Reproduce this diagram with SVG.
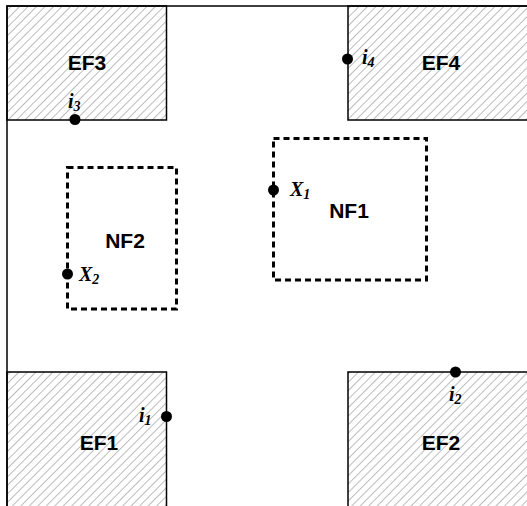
<svg xmlns="http://www.w3.org/2000/svg" width="527" height="506" viewBox="0 0 527 506">
  <defs>
    <pattern id="hatch" patternUnits="userSpaceOnUse" width="6" height="10" patternTransform="rotate(45)">
      <line x1="0" y1="0" x2="0" y2="10" stroke="#7a7a7a" stroke-width="1"/>
    </pattern>
    <style>
      .ef { fill: url(#hatch); stroke: #000; stroke-width: 1.5; }
      .nf { fill: none; stroke: #000; stroke-width: 3; stroke-dasharray: 6 4; }
      .frame { fill: none; stroke: #000; stroke-width: 1.5; }
      .big { font-family: "Liberation Sans", Arial, sans-serif; font-weight: bold; font-size: 21px; fill: #000; text-anchor: middle; }
      .var { font-family: "Liberation Serif", "Times New Roman", serif; font-style: italic; font-weight: bold; font-size: 20px; fill: #000; }
      .sub { font-size: 14px; }
      .pt { fill: #000; }
    </style>
  </defs>
  <rect width="527" height="506" fill="#fff"/>

  <!-- outer frame: top and left edges -->
  <path class="frame" d="M7,506 V6 H527"/>

  <g id="EF3">
    <rect class="ef" x="7" y="6" width="159.5" height="114"/>
    <text class="big" x="87" y="70">EF3</text>
  </g>
  <g id="EF4">
    <rect class="ef" x="348" y="6" width="190" height="114"/>
    <text class="big" x="441" y="70">EF4</text>
  </g>
  <g id="EF1">
    <rect class="ef" x="7" y="372" width="159.5" height="145"/>
    <text class="big" x="99" y="450">EF1</text>
  </g>
  <g id="EF2">
    <rect class="ef" x="348" y="372" width="190" height="145"/>
    <text class="big" x="441" y="450">EF2</text>
  </g>

  <g id="NF1">
    <rect class="nf" x="273.5" y="138.5" width="153" height="141.5"/>
    <text class="big" x="349" y="218">NF1</text>
  </g>
  <g id="NF2">
    <rect class="nf" x="67.5" y="167.5" width="109" height="141.5"/>
    <text class="big" x="125" y="248">NF2</text>
  </g>

  <!-- interface points -->
  <g id="i3">
    <circle class="pt" cx="75" cy="119.5" r="5.5"/>
    <text class="var" x="68" y="108">i<tspan class="sub" dy="3">3</tspan></text>
  </g>
  <g id="i4">
    <circle class="pt" cx="347.5" cy="59" r="5.5"/>
    <text class="var" x="362" y="64">i<tspan class="sub" dy="3">4</tspan></text>
  </g>
  <g id="i1">
    <circle class="pt" cx="166.5" cy="416.5" r="5.5"/>
    <text class="var" x="139" y="422">i<tspan class="sub" dy="3">1</tspan></text>
  </g>
  <g id="i2">
    <circle class="pt" cx="455.5" cy="372" r="5.5"/>
    <text class="var" x="449" y="401">i<tspan class="sub" dy="3">2</tspan></text>
  </g>
  <g id="X1">
    <circle class="pt" cx="273.5" cy="190" r="5.5"/>
    <text class="var" x="290" y="196">X<tspan class="sub" dy="3">1</tspan></text>
  </g>
  <g id="X2">
    <circle class="pt" cx="67.5" cy="274" r="5.5"/>
    <text class="var" x="79" y="281">X<tspan class="sub" dy="3">2</tspan></text>
  </g>
</svg>
